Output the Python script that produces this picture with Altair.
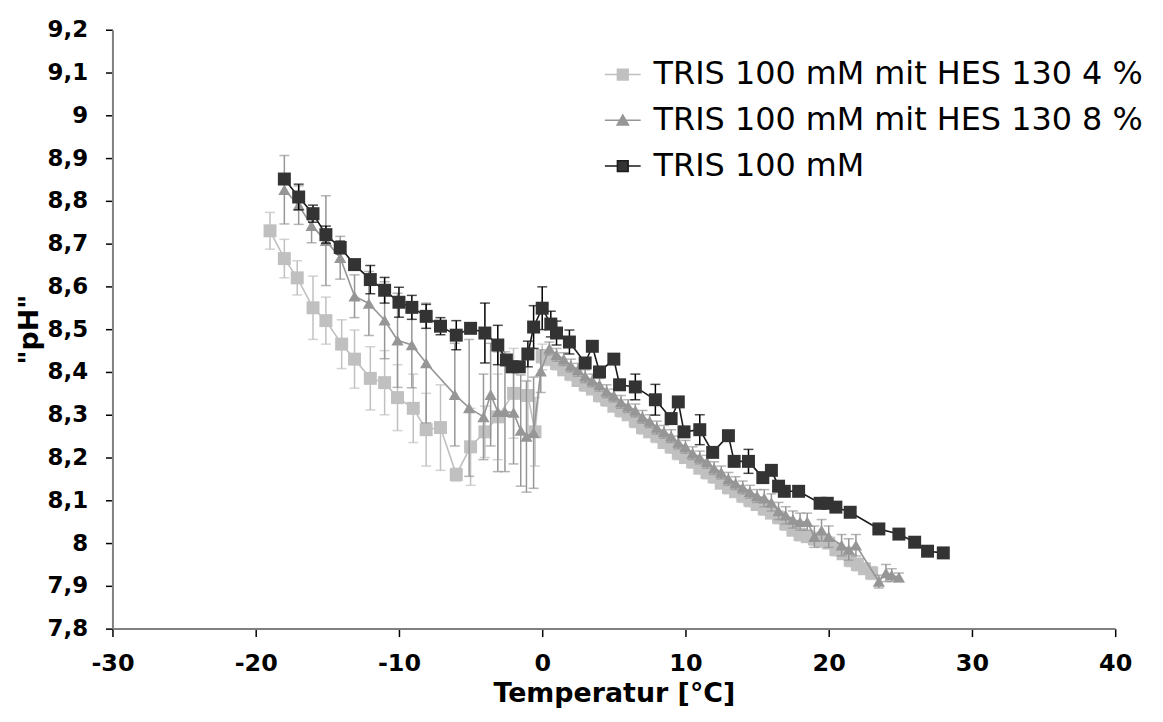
import altair as alt
import pandas as pd

SERIES = ["TRIS 100 mM mit HES 130 4 %", "TRIS 100 mM mit HES 130 8 %", "TRIS 100 mM"]
MARK_COLORS = ["#c0c0c0", "#969696", "#333333"]
LINE_COLORS = ["#c0c0c0", "#969696", "#1a1a1a"]
ERR_COLORS = ["#c0c0c0", "#969696", "#000000"]

X_TICKS = [-30, -20, -10, 0, 10, 20, 30, 40]
Y_TICKS = [7.8, 7.9, 8.0, 8.1, 8.2, 8.3, 8.4, 8.5, 8.6, 8.7, 8.8, 8.9, 9.0, 9.1, 9.2]

# --- TRIS 100 mM mit HES 130 4 % (light squares)
light_T = [-19.0, -18.0, -17.1, -16.0, -15.1, -14.0, -13.1, -12.0, -11.0, -10.1,
           -9.0, -8.1, -7.1, -6.0, -5.0, -4.0, -3.1, -2.0, -1.0, -0.5, 0.0,
           0.5, 1.0, 1.5, 2.0, 2.5, 3.0, 3.5, 4.0, 4.5, 5.0,
           5.5, 6.0, 6.5, 7.0, 7.5, 8.0, 8.5, 9.0, 9.5, 10.0,
           10.5, 11.0, 11.5, 12.0, 12.5, 13.0, 13.5, 14.0, 14.5, 15.0,
           15.5, 16.0, 16.5, 17.0, 17.5, 18.0, 18.5, 19.0, 19.5, 20.0,
           20.5, 21.0, 21.5, 22.0, 22.5, 23.0]
light_pH = [8.73, 8.665, 8.62, 8.55, 8.52, 8.465, 8.43, 8.385, 8.375, 8.34,
            8.315, 8.265, 8.27, 8.16, 8.225, 8.26, 8.295, 8.35, 8.345, 8.26, 8.435,
            8.43, 8.42, 8.405, 8.395, 8.38, 8.37, 8.36, 8.345, 8.335, 8.32,
            8.31, 8.30, 8.285, 8.27, 8.26, 8.25, 8.235, 8.225, 8.21, 8.20,
            8.19, 8.175, 8.165, 8.155, 8.14, 8.13, 8.12, 8.11, 8.10, 8.09,
            8.08, 8.07, 8.06, 8.045, 8.03, 8.02, 8.015, 8.01, 8.005, 8.00,
            7.985, 7.975, 7.96, 7.95, 7.94, 7.93]
light_err = [0.043, 0.045, 0.04, 0.074, 0.055, 0.057, 0.068, 0.074, 0.075, 0.077,
             0.08, 0.085, 0.10, 0.015, 0.09, 0.06, 0.10, 0.105, 0.09, 0.08, 0.03,
             0.015, 0.015, 0.012, 0.015, 0.012, 0.015, 0.012, 0.015, 0.015, 0.012,
             0.015, 0.012, 0.015, 0.015, 0.012, 0.015, 0.012, 0.015, 0.015, 0.012,
             0.015, 0.012, 0.015, 0.015, 0.012, 0.015, 0.012, 0.015, 0.015, 0.012,
             0.015, 0.012, 0.015, 0.015, 0.012, 0.015, 0.012, 0.015, 0.015, 0.012,
             0.015, 0.012, 0.015, 0.015, 0.012, 0.015]

# --- TRIS 100 mM mit HES 130 8 % (mid triangles)
mid_T = [-18.0, -17.0, -16.1, -15.1, -14.1, -13.1, -12.1, -11.0, -10.1, -9.1,
         -8.1, -6.1, -5.1, -4.1, -3.6, -3.1, -2.6, -2.0, -1.5, -1.1, -0.6, -0.1,
         0.5, 1.0, 1.5, 2.0, 2.5, 3.0, 3.5, 4.0, 4.5, 5.0,
         5.5, 6.0, 6.5, 7.0, 7.5, 8.0, 8.5, 9.0, 9.5, 10.0,
         10.5, 11.0, 11.5, 12.0, 12.5, 13.0, 13.5, 14.0, 14.5, 15.0,
         15.5, 16.0, 16.5, 17.0, 17.5, 18.0, 18.5, 19.0, 19.5, 20.0,
         20.9, 21.4, 21.9, 23.5, 24.0, 24.4, 24.9]
mid_pH = [8.826, 8.79, 8.742, 8.707, 8.667, 8.577, 8.56, 8.521, 8.474, 8.463,
          8.421, 8.347, 8.316, 8.295, 8.347, 8.307, 8.307, 8.305, 8.263, 8.249, 8.258, 8.402,
          8.455, 8.44, 8.43, 8.415, 8.405, 8.39, 8.38, 8.37, 8.355, 8.345,
          8.33, 8.32, 8.31, 8.295, 8.285, 8.27, 8.26, 8.25, 8.235, 8.225,
          8.21, 8.20, 8.19, 8.175, 8.165, 8.15, 8.14, 8.13, 8.12, 8.11,
          8.105, 8.095, 8.075, 8.065, 8.055, 8.05, 8.05, 8.015, 8.03, 8.015,
          7.995, 7.985, 7.995, 7.91, 7.93, 7.925, 7.92]
mid_err = [0.08, 0.045, 0.04, 0.105, 0.05, 0.05, 0.075, 0.09, 0.11, 0.10,
           0.14, 0.12, 0.16, 0.10, 0.12, 0.14, 0.14, 0.12, 0.13, 0.13, 0.13, 0.05,
           0.015, 0.015, 0.015, 0.015, 0.015, 0.015, 0.015, 0.015, 0.015, 0.015,
           0.015, 0.015, 0.015, 0.015, 0.015, 0.015, 0.015, 0.015, 0.015, 0.015,
           0.015, 0.015, 0.015, 0.015, 0.015, 0.015, 0.015, 0.015, 0.015, 0.015,
           0.02, 0.02, 0.02, 0.02, 0.02, 0.02, 0.02, 0.025, 0.025, 0.025,
           0.025, 0.025, 0.025, 0.015, 0.02, 0.015, 0.01]

# --- TRIS 100 mM (dark squares)
dark_T = [-18.0, -17.0, -16.0, -15.1, -14.1, -13.1, -12.0, -11.0, -10.0, -9.1,
          -8.1, -7.1, -6.0, -5.0, -4.0, -3.1, -2.5, -2.1, -1.6, -1.0,
          -0.6, 0.0, 0.6, 1.0, 1.9, 3.0, 3.5, 4.0, 5.0, 5.4,
          6.5, 7.9, 9.0, 9.5, 9.9, 11.0, 11.9, 13.0, 13.4, 14.4,
          15.4, 16.0, 16.5, 16.9, 17.9, 19.4, 19.9, 20.5, 21.5, 23.5,
          24.9, 26.0, 26.9, 28.0]
dark_pH = [8.851, 8.809, 8.770, 8.721, 8.691, 8.651, 8.616, 8.591, 8.563, 8.551,
           8.530, 8.507, 8.486, 8.502, 8.491, 8.463, 8.428, 8.412, 8.412, 8.442,
           8.505, 8.549, 8.512, 8.491, 8.470, 8.421, 8.460, 8.400, 8.430, 8.370,
           8.365, 8.335, 8.291, 8.330, 8.260, 8.265, 8.212, 8.251, 8.191, 8.191,
           8.153, 8.170, 8.133, 8.121, 8.121, 8.093, 8.093, 8.084, 8.072, 8.033,
           8.021, 8.002, 7.981, 7.977]
dark_err = [0.0, 0.03, 0.02, 0.02, 0.015, 0.01, 0.033, 0.03, 0.035, 0.028,
            0.028, 0.02, 0.034, 0.0, 0.07, 0.046, 0.0, 0.0, 0.01, 0.03,
            0.05, 0.05, 0.03, 0.028, 0.028, 0.0, 0.0, 0.0, 0.0, 0.0,
            0.03, 0.036, 0.0, 0.0, 0.0, 0.035, 0.0, 0.0, 0.0, 0.028,
            0.0, 0.0, 0.0, 0.0, 0.005, 0.0, 0.0, 0.0, 0.0, 0.0,
            0.0, 0.0, 0.0, 0.0]

SHAPES = ["square", "triangle-up", "square"]
SIZES = [170, 150, 170]
LEGEND_PATHS = [
    "M-1,0H-0.3M0.3,0H1M-0.3,-0.3H0.3V0.3H-0.3Z",
    "M-1,0H1M-0.32,0.27L0,-0.3L0.32,0.27Z",
    "M-1,0H-0.3M0.3,0H1M-0.3,-0.3H0.3V0.3H-0.3Z",
]

frames = []
for name, T, pH, err in [(SERIES[0], light_T, light_pH, light_err),
                         (SERIES[1], mid_T, mid_pH, mid_err),
                         (SERIES[2], dark_T, dark_pH, dark_err)]:
    frames.append(pd.DataFrame({"series": name, "T": T, "pH": pH, "err": err,
                                "idx": list(range(len(T)))}))
df = pd.concat(frames, ignore_index=True)

x_scale = alt.Scale(domain=[-30, 40], nice=False, zero=False)
y_scale = alt.Scale(domain=[7.8, 9.2], nice=False, zero=False)
x_axis = alt.Axis(values=X_TICKS, labelExpr="datum.value + ''", title="Temperatur [°C]",
                  labelFlush=False)
y_axis = alt.Axis(values=Y_TICKS, labelExpr="replace(format(datum.value, '.1~f'), '.', ',')",
                  title='"pH"', labelFlush=False)


def X():
    return alt.X("T:Q", scale=x_scale, axis=x_axis)


def Y(field):
    return alt.Y(field, scale=y_scale, axis=y_axis)


layers = []
for i, name in enumerate(SERIES):
    base = alt.Chart(df).transform_filter(alt.datum.series == name)
    errbase = base.transform_filter("datum.err > 0").transform_calculate(
        lo="datum.pH - datum.err", hi="datum.pH + datum.err")
    rules = errbase.mark_rule(color=ERR_COLORS[i], strokeWidth=1.5).encode(
        x=X(), y=Y("lo:Q"), y2="hi:Q")
    caps = errbase.transform_fold(["lo", "hi"], as_=["end", "yv"]).mark_tick(
        orient="horizontal", size=10, thickness=1.5, color=ERR_COLORS[i]).encode(
        x=X(), y=Y("yv:Q"))
    line = base.mark_line(color=LINE_COLORS[i], strokeWidth=1.6).encode(
        x=X(), y=Y("pH:Q"), order="idx:Q")
    pts = base.mark_point(filled=True, opacity=1, shape=SHAPES[i], size=SIZES[i],
                          color=MARK_COLORS[i]).encode(x=X(), y=Y("pH:Q"))
    layers += [rules, caps, line, pts]

LEG = alt.Legend(title=None, orient="none", legendX=494, legendY=26,
                 labelFont="DejaVu Sans", labelFontSize=32, labelColor="black",
                 symbolSize=1296, symbolStrokeWidth=1.5, rowPadding=11,
                 labelOffset=12, padding=0, labelLimit=700, symbolOpacity=1)

legend_layer = alt.Chart(df).transform_filter("false").mark_point(
    filled=False, strokeWidth=1.5, opacity=1).encode(
    shape=alt.Shape("series:N", scale=alt.Scale(domain=SERIES, range=LEGEND_PATHS), legend=LEG),
    fill=alt.Fill("series:N", scale=alt.Scale(domain=SERIES, range=MARK_COLORS), legend=LEG),
    stroke=alt.Stroke("series:N", scale=alt.Scale(domain=SERIES, range=LINE_COLORS), legend=LEG),
)

chart = alt.layer(*layers, legend_layer).properties(
    width=1008, height=602,
    autosize=alt.AutoSizeParams(type="none"),
    padding={"left": 105, "top": 20, "right": 40, "bottom": 90},
    background="white",
).configure_view(stroke=None).configure_axis(
    grid=False,
    labelFont="DejaVu Sans", labelFontWeight="bold", labelFontSize=23, labelColor="black",
    titleFont="DejaVu Sans", titleFontWeight="bold", titleFontSize=27, titleColor="black",
    domainColor="#808080", domainWidth=2, tickColor="black", tickWidth=1.5, tickSize=7,
).configure_axisX(labelPadding=15, titlePadding=5, tickSize=8, labelFontSize=24).configure_axisY(
    labelPadding=18, titlePadding=4)

chart.save("out.html", embed_options={"renderer": "svg", "actions": False})
